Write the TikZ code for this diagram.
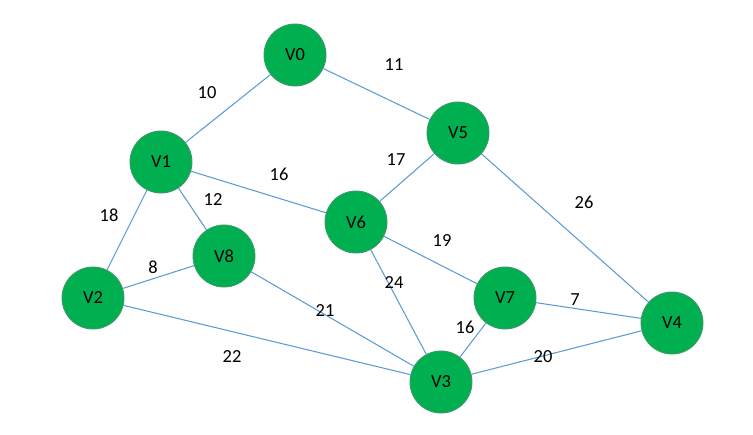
\documentclass[tikz,border=0pt]{standalone}
\usepackage{fontspec}
\setmainfont{Carlito}
\usetikzlibrary{positioning}
\definecolor{vgreen}{RGB}{0,176,80}
\definecolor{vline}{RGB}{65,150,105}
\definecolor{eblue}{RGB}{91,155,213}

\begin{document}
\begin{tikzpicture}[
    x=0.02cm, y=-0.02cm,
    vertex/.style={circle, draw=vline, fill=vgreen, line width=0.5pt, minimum size=1.24cm, inner sep=0pt, font=\fontsize{10.5}{12}\selectfont},
    edge/.style={draw=eblue, line width=0.6pt},
    weight/.style={inner sep=1pt, font=\fontsize{10.5}{12}\selectfont}
]
    \useasboundingbox (0,0) rectangle (753,434);

    % vertices
    \node[vertex] (V0) at (295, 55) {V0};
    \node[vertex] (V5) at (458, 133) {V5};
    \node[vertex] (V1) at (161, 162) {V1};
    \node[vertex] (V6) at (356, 222) {V6};
    \node[vertex] (V8) at (224, 256) {V8};
    \node[vertex] (V2) at (93, 298) {V2};
    \node[vertex] (V7) at (505, 298) {V7};
    \node[vertex] (V4) at (672, 323) {V4};
    \node[vertex] (V3) at (441, 382) {V3};

    % edges
    \foreach \a/\b in {V0/V1, V0/V5, V1/V6, V1/V2, V1/V8, V5/V6, V5/V4,
                       V6/V7, V6/V3, V8/V2, V8/V3, V2/V3, V7/V4, V7/V3, V3/V4} {
        \draw[edge] (\a) -- (\b);
    }

    % weights
    \node[weight] (w01) at (207, 93) {10};
    \node[weight] (w05) at (394, 65) {11};
    \node[weight] (w56) at (396, 160) {17};
    \node[weight] (w16) at (279, 174) {16};
    \node[weight] (w18) at (213, 200) {12};
    \node[weight] (w12) at (109, 215) {18};
    \node[weight] (w54) at (584, 202) {26};
    \node[weight] (w67) at (442, 241) {19};
    \node[weight] (w82) at (153, 267) {8};
    \node[weight] (w63) at (394, 283) {24};
    \node[weight] (w74) at (575, 300) {7};
    \node[weight] (w83) at (325, 311) {21};
    \node[weight] (w73) at (465, 327) {16};
    \node[weight] (w23) at (232, 356) {22};
    \node[weight] (w34) at (543, 357) {20};
\end{tikzpicture}
\end{document}
